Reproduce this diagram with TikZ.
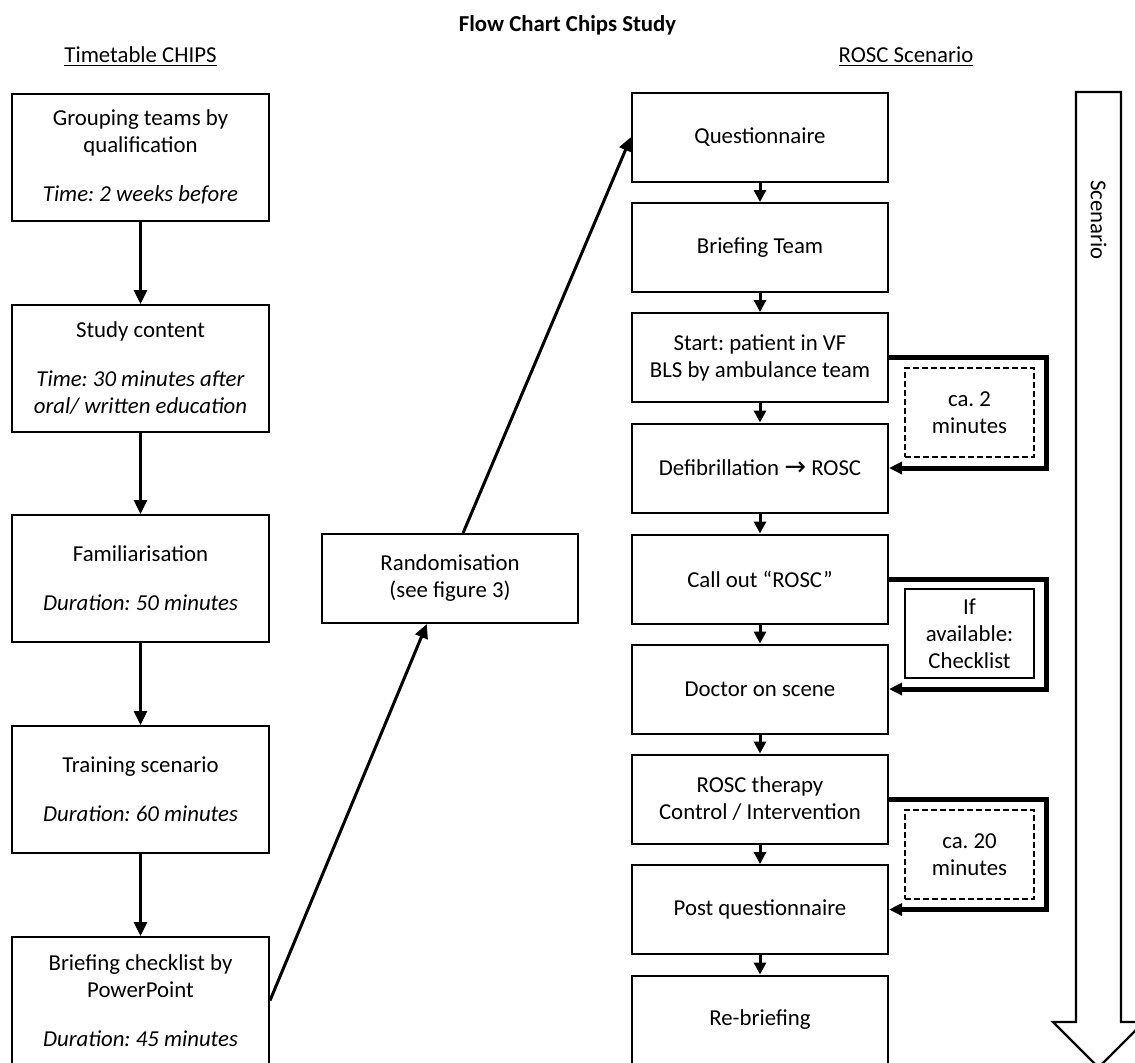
\documentclass[tikz,border=0pt]{standalone}
\usepackage{fontspec}
\setmainfont{Carlito}
\newfontfamily\arrowfont{DejaVu Sans}
\usetikzlibrary{arrows.meta}
\frenchspacing

\tikzset{
  box/.style={draw,line width=1pt,align=center,inner sep=0pt,font=\fontsize{11.4}{13.5}\selectfont},
  lbox/.style={box,minimum width=128.5pt,minimum height=63.5pt},
  rbox/.style={box,minimum width=128pt,minimum height=44.5pt},
  notebox/.style={box,minimum width=64.5pt,minimum height=44.5pt},
  dashbox/.style={notebox,line width=0.75pt,dash pattern=on 3pt off 1.5pt},
  heading/.style={font=\fontsize{11.4}{13.5}\selectfont},
  flow/.style={line width=1.5pt,-{Triangle[length=7pt,width=6.5pt]}},
  shortflow/.style={line width=1.5pt,-{Triangle[length=6pt,width=6pt]}},
  sideflow/.style={line width=2.5pt,-{Triangle[length=6.5pt,width=6pt]}}
}

\begin{document}
\begin{tikzpicture}[x=0.5pt,y=-0.5pt]
 \useasboundingbox (0,0) rectangle (1135,1062);
 % headings
 \node[heading,font=\fontsize{11.4}{13.5}\selectfont\bfseries] (title) at (567.5,25) {Flow Chart Chips Study};
 \node[heading] (lefthead) at (140.5,57) {\underline{Timetable CHIPS}};
 \node[heading] (righthead) at (906,57) {\underline{ROSC Scenario}};
 % timetable
 \node[lbox] (group) at (140.5,157) {Grouping teams by\\qualification\\[11pt]\textit{Time: 2 weeks before}};
 \node[lbox] (content) at (140.5,368.5) {Study content\\[11pt]\textit{Time: 30 minutes after}\\\textit{oral/ written education}};
 \node[lbox] (famil) at (140.5,578.5) {Familiarisation\\[11pt]\textit{Duration: 50 minutes}};
 \node[lbox] (train) at (140.5,789.5) {Training scenario\\[11pt]\textit{Duration: 60 minutes}};
 \node[lbox] (brief) at (140.5,1000.5) {Briefing checklist by\\PowerPoint\\[11pt]\textit{Duration: 45 minutes}};
 \draw[flow] (group) -- (content);
 \draw[flow] (content) -- (famil);
 \draw[flow] (famil) -- (train);
 \draw[flow] (train) -- (brief);
 % randomisation
 \node[rbox] (random) at (450,578.5) {Randomisation\\(see figure 3)};
 \draw[flow] (brief.east) -- (random.243);
 % scenario
 \node[rbox] (quest) at (760,137) {Questionnaire};
 \node[rbox] (team) at (760,247.5) {Briefing Team};
 \node[rbox] (start) at (760,357.5) {Start: patient in VF\\BLS by ambulance team};
 \node[rbox] (defib) at (760,468) {Defibrillation {\arrowfont\fontsize{13}{13.5}\selectfont →} ROSC};
 \node[rbox] (callout) at (760,579) {Call out “ROSC”};
 \node[rbox] (doctor) at (760,689) {Doctor on scene};
 \node[rbox] (therapy) at (760,799) {ROSC therapy\\Control / Intervention};
 \node[rbox] (post) at (760,909.5) {Post questionnaire};
 \node[rbox] (rebrief) at (760,1020) {Re-briefing};
 \draw[flow] (random.74) -- (quest.west);
 \draw[shortflow] (quest) -- (team);
 \draw[shortflow] (team) -- (start);
 \draw[shortflow] (start) -- (defib);
 \draw[shortflow] (defib) -- (callout);
 \draw[shortflow] (callout) -- (doctor);
 \draw[shortflow] (doctor) -- (therapy);
 \draw[shortflow] (therapy) -- (post);
 \draw[shortflow] (post) -- (rebrief);
 % side notes
 \draw[sideflow] (start.east) -- ++(157,0) |- (defib.east);
 \draw[sideflow] (callout.east) -- ++(157,0) |- (doctor.east);
 \draw[sideflow] (therapy.east) -- ++(157,0) |- (post.east);
 \node[dashbox] (twomin) at (969.5,412.5) {ca. 2\\minutes};
 \node[notebox] (check) at (969.5,633.5) {If\\available:\\Checklist};
 \node[dashbox] (twentymin) at (969.5,854.5) {ca. 20\\minutes};
 % big arrow
 \draw[line width=1.2pt,fill=white] (1076,92) -- (1121,92) -- (1121,1022) -- (1144,1022)
   -- (1098.5,1067.5) -- (1053,1022) -- (1076,1022) -- cycle;
 \node[heading,rotate=-90] (scen) at (1098.5,220) {Scenario};
\end{tikzpicture}
\end{document}
